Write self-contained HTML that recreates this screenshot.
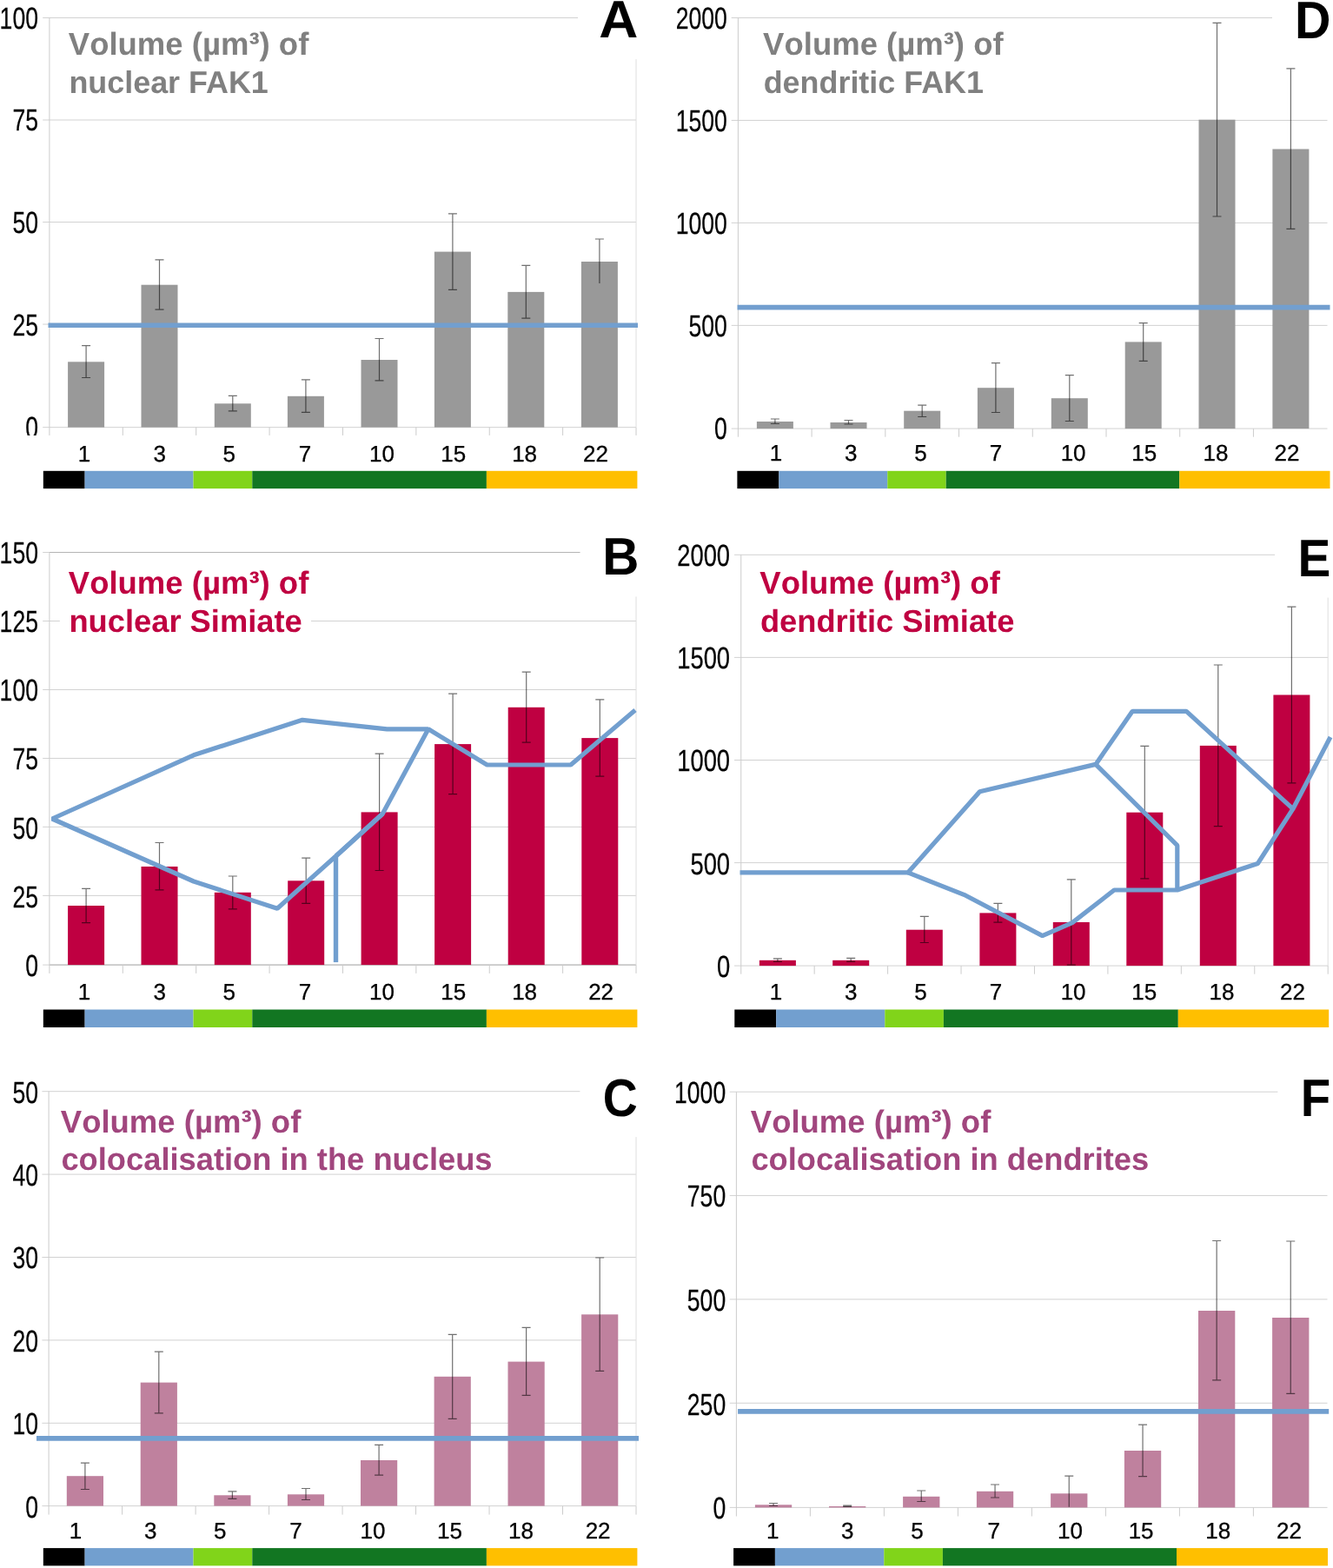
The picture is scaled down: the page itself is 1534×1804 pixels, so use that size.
<!DOCTYPE html>
<html lang="en">
<head>
<meta charset="utf-8">
<title>Volume charts</title>
<style>
html,body{margin:0;padding:0;background:#fff;}
body{width:1534px;height:1804px;overflow:hidden;}
svg{display:block;}
text{font-family:"Liberation Sans",sans-serif;text-rendering:geometricPrecision;}
</style>
</head>
<body>
<svg width="1534" height="1804" viewBox="0 0 1534 1804" font-family="'Liberation Sans', sans-serif">
<defs><clipPath id="clipA"><rect x="0" y="460" width="57" height="40.9"/></clipPath></defs>
<rect width="1534" height="1804" fill="#ffffff"/>
<g>
<line x1="49.2" y1="20.5" x2="665" y2="20.5" stroke="#d2d2d2" stroke-width="1"/>
<line x1="49.2" y1="138.02" x2="732.02" y2="138.02" stroke="#d2d2d2" stroke-width="1"/>
<line x1="49.2" y1="255.54" x2="732.02" y2="255.54" stroke="#d2d2d2" stroke-width="1"/>
<line x1="49.2" y1="373.06" x2="732.02" y2="373.06" stroke="#d2d2d2" stroke-width="1"/>
<line x1="49.2" y1="491.65" x2="732.02" y2="491.65" stroke="#d2d2d2" stroke-width="1"/>
<line x1="56.9" y1="20.5" x2="56.9" y2="500.95" stroke="#cccccc" stroke-width="1"/>
<line x1="141.29" y1="491.65" x2="141.29" y2="500.95" stroke="#cccccc" stroke-width="1"/>
<line x1="225.68" y1="491.65" x2="225.68" y2="500.95" stroke="#cccccc" stroke-width="1"/>
<line x1="310.07" y1="491.65" x2="310.07" y2="500.95" stroke="#cccccc" stroke-width="1"/>
<line x1="394.46" y1="491.65" x2="394.46" y2="500.95" stroke="#cccccc" stroke-width="1"/>
<line x1="478.85" y1="491.65" x2="478.85" y2="500.95" stroke="#cccccc" stroke-width="1"/>
<line x1="563.24" y1="491.65" x2="563.24" y2="500.95" stroke="#cccccc" stroke-width="1"/>
<line x1="647.63" y1="491.65" x2="647.63" y2="500.95" stroke="#cccccc" stroke-width="1"/>
<line x1="732.02" y1="491.65" x2="732.02" y2="500.95" stroke="#cccccc" stroke-width="1"/>
<line x1="732.02" y1="68.2" x2="732.02" y2="491.65" stroke="#dedede" stroke-width="1"/>
<rect x="78.1" y="416.3" width="42" height="75.35" fill="#999999"/>
<rect x="162.5" y="327.7" width="42" height="163.95" fill="#999999"/>
<rect x="246.8" y="464.3" width="42" height="27.35" fill="#999999"/>
<rect x="330.9" y="455.8" width="42" height="35.85" fill="#999999"/>
<rect x="415.5" y="414" width="42" height="77.65" fill="#999999"/>
<rect x="499.9" y="289.6" width="42" height="202.05" fill="#999999"/>
<rect x="584.3" y="335.9" width="42" height="155.75" fill="#999999"/>
<rect x="668.9" y="301" width="42" height="190.65" fill="#999999"/>
<path d="M99.1 397.7V434.5M94.1 397.7H104.1M94.1 434.5H104.1M183.5 298.9V356.2M178.5 298.9H188.5M178.5 356.2H188.5M267.8 455.3V472.8M262.8 455.3H272.8M262.8 472.8H272.8M351.9 436.8V474.3M346.9 436.8H356.9M346.9 474.3H356.9M436.5 389.5V437.8M431.5 389.5H441.5M431.5 437.8H441.5M520.9 245.8V333.4M515.9 245.8H525.9M515.9 333.4H525.9M605.3 305.4V366.2M600.3 305.4H610.3M600.3 366.2H610.3M689.9 275V326M684.9 275H694.9" stroke="#000" stroke-opacity="0.56" stroke-width="1.2" fill="none"/>
<polyline points="55.5,374.2 734,374.2" fill="none" stroke="#729fcf" stroke-width="5.6" stroke-linejoin="bevel" stroke-linecap="butt"/>
<g><text transform="translate(44,32.6) scale(0.76,1)" text-anchor="end" font-size="35" fill="#000" stroke="#000" stroke-width="0.25">100</text></g>
<g><text transform="translate(44,150.42) scale(0.76,1)" text-anchor="end" font-size="35" fill="#000" stroke="#000" stroke-width="0.25">75</text></g>
<g><text transform="translate(44,268.25) scale(0.76,1)" text-anchor="end" font-size="35" fill="#000" stroke="#000" stroke-width="0.25">50</text></g>
<g><text transform="translate(44,386.07) scale(0.76,1)" text-anchor="end" font-size="35" fill="#000" stroke="#000" stroke-width="0.25">25</text></g>
<g clip-path="url(#clipA)"><text transform="translate(44,503.9) scale(0.76,1)" text-anchor="end" font-size="35" fill="#000" stroke="#000" stroke-width="0.25">0</text></g>
<text x="78.8" y="62.6" font-size="36.5" font-weight="bold" fill="#808080" style="font-kerning:none">Volume (µm³) of</text>
<text x="79.4" y="107.1" font-size="35.9" font-weight="bold" fill="#808080">nuclear FAK1</text>
<text transform="translate(689.2,43) scale(1.0397,1.0138)" font-size="60" font-weight="bold" fill="#000">A</text>
<text x="97" y="530.6" font-size="26" text-anchor="middle" fill="#000" stroke="#000" stroke-width="0.3">1</text>
<text x="183.7" y="530.6" font-size="26" text-anchor="middle" fill="#000" stroke="#000" stroke-width="0.3">3</text>
<text x="263.7" y="530.6" font-size="26" text-anchor="middle" fill="#000" stroke="#000" stroke-width="0.3">5</text>
<text x="351" y="530.6" font-size="26" text-anchor="middle" fill="#000" stroke="#000" stroke-width="0.3">7</text>
<text x="439.5" y="530.6" font-size="26" text-anchor="middle" fill="#000" stroke="#000" stroke-width="0.3">10</text>
<text x="521.8" y="530.6" font-size="26" text-anchor="middle" fill="#000" stroke="#000" stroke-width="0.3">15</text>
<text x="603.6" y="530.6" font-size="26" text-anchor="middle" fill="#000" stroke="#000" stroke-width="0.3">18</text>
<text x="685.4" y="530.6" font-size="26" text-anchor="middle" fill="#000" stroke="#000" stroke-width="0.3">22</text>
<rect x="49.8" y="541.8" width="47.8" height="20.3" fill="#000000"/>
<rect x="97.6" y="541.8" width="124.9" height="20.3" fill="#729fcf"/>
<rect x="222.5" y="541.8" width="67.8" height="20.3" fill="#81d41a"/>
<rect x="290.3" y="541.8" width="269.6" height="20.3" fill="#127622"/>
<rect x="559.9" y="541.8" width="173.5" height="20.3" fill="#ffbf00"/>
</g>
<g>
<line x1="841.7" y1="20.5" x2="1464" y2="20.5" stroke="#d2d2d2" stroke-width="1"/>
<line x1="841.7" y1="138.46" x2="1527.5" y2="138.46" stroke="#d2d2d2" stroke-width="1"/>
<line x1="841.7" y1="256.42" x2="1527.5" y2="256.42" stroke="#d2d2d2" stroke-width="1"/>
<line x1="841.7" y1="374.38" x2="1527.5" y2="374.38" stroke="#d2d2d2" stroke-width="1"/>
<line x1="841.7" y1="493.1" x2="1527.5" y2="493.1" stroke="#d2d2d2" stroke-width="1"/>
<line x1="849.4" y1="20.5" x2="849.4" y2="502.7" stroke="#cccccc" stroke-width="1"/>
<line x1="934.12" y1="493.1" x2="934.12" y2="502.7" stroke="#cccccc" stroke-width="1"/>
<line x1="1018.84" y1="493.1" x2="1018.84" y2="502.7" stroke="#cccccc" stroke-width="1"/>
<line x1="1103.56" y1="493.1" x2="1103.56" y2="502.7" stroke="#cccccc" stroke-width="1"/>
<line x1="1188.28" y1="493.1" x2="1188.28" y2="502.7" stroke="#cccccc" stroke-width="1"/>
<line x1="1273" y1="493.1" x2="1273" y2="502.7" stroke="#cccccc" stroke-width="1"/>
<line x1="1357.72" y1="493.1" x2="1357.72" y2="502.7" stroke="#cccccc" stroke-width="1"/>
<line x1="1442.44" y1="493.1" x2="1442.44" y2="502.7" stroke="#cccccc" stroke-width="1"/>
<rect x="870.9" y="485" width="42" height="8.1" fill="#999999"/>
<rect x="955.5" y="486" width="42" height="7.1" fill="#999999"/>
<rect x="1040.2" y="472.7" width="42" height="20.4" fill="#999999"/>
<rect x="1124.9" y="446.2" width="42" height="46.9" fill="#999999"/>
<rect x="1209.8" y="458.2" width="42" height="34.9" fill="#999999"/>
<rect x="1294.7" y="393.4" width="42" height="99.7" fill="#999999"/>
<rect x="1379.5" y="137.7" width="42" height="355.4" fill="#999999"/>
<rect x="1464.4" y="171.5" width="42" height="321.6" fill="#999999"/>
<path d="M891.9 482V487.5M886.9 482H896.9M886.9 487.5H896.9M976.5 483.5V488M971.5 483.5H981.5M971.5 488H981.5M1061.2 466.2V479.5M1056.2 466.2H1066.2M1056.2 479.5H1066.2M1145.9 417.6V474.5M1140.9 417.6H1150.9M1140.9 474.5H1150.9M1230.8 431.7V484.5M1225.8 431.7H1235.8M1225.8 484.5H1235.8M1315.7 371.6V415.4M1310.7 371.6H1320.7M1310.7 415.4H1320.7M1400.5 26.3V249M1395.5 26.3H1405.5M1395.5 249H1405.5M1485.4 78.8V263.3M1480.4 78.8H1490.4M1480.4 263.3H1490.4" stroke="#000" stroke-opacity="0.56" stroke-width="1.2" fill="none"/>
<polyline points="848.5,353.6 1530.5,353.6" fill="none" stroke="#729fcf" stroke-width="5.6" stroke-linejoin="bevel" stroke-linecap="butt"/>
<g><text transform="translate(836.9,32.6) scale(0.76,1)" text-anchor="end" font-size="35" fill="#000" stroke="#000" stroke-width="0.25">2000</text></g>
<g><text transform="translate(836.9,150.75) scale(0.76,1)" text-anchor="end" font-size="35" fill="#000" stroke="#000" stroke-width="0.25">1500</text></g>
<g><text transform="translate(836.9,268.9) scale(0.76,1)" text-anchor="end" font-size="35" fill="#000" stroke="#000" stroke-width="0.25">1000</text></g>
<g><text transform="translate(836.9,387.05) scale(0.76,1)" text-anchor="end" font-size="35" fill="#000" stroke="#000" stroke-width="0.25">500</text></g>
<g><text transform="translate(836.9,505.2) scale(0.76,1)" text-anchor="end" font-size="35" fill="#000" stroke="#000" stroke-width="0.25">0</text></g>
<text x="878.1" y="62.6" font-size="36.5" font-weight="bold" fill="#808080" style="font-kerning:none">Volume (µm³) of</text>
<text x="878.7" y="107.1" font-size="35.9" font-weight="bold" fill="#808080">dendritic FAK1</text>
<text transform="translate(1490.06,43.8) scale(0.9566,1.0138)" font-size="60" font-weight="bold" fill="#000">D</text>
<text x="892.9" y="530.3" font-size="26" text-anchor="middle" fill="#000" stroke="#000" stroke-width="0.3">1</text>
<text x="979.3" y="530.3" font-size="26" text-anchor="middle" fill="#000" stroke="#000" stroke-width="0.3">3</text>
<text x="1059.4" y="530.3" font-size="26" text-anchor="middle" fill="#000" stroke="#000" stroke-width="0.3">5</text>
<text x="1146" y="530.3" font-size="26" text-anchor="middle" fill="#000" stroke="#000" stroke-width="0.3">7</text>
<text x="1235.1" y="530.3" font-size="26" text-anchor="middle" fill="#000" stroke="#000" stroke-width="0.3">10</text>
<text x="1316.8" y="530.3" font-size="26" text-anchor="middle" fill="#000" stroke="#000" stroke-width="0.3">15</text>
<text x="1399" y="530.3" font-size="26" text-anchor="middle" fill="#000" stroke="#000" stroke-width="0.3">18</text>
<text x="1480.9" y="530.3" font-size="26" text-anchor="middle" fill="#000" stroke="#000" stroke-width="0.3">22</text>
<rect x="848.4" y="541.8" width="48" height="20.3" fill="#000000"/>
<rect x="896.4" y="541.8" width="124.9" height="20.3" fill="#729fcf"/>
<rect x="1021.3" y="541.8" width="67.4" height="20.3" fill="#81d41a"/>
<rect x="1088.7" y="541.8" width="268.6" height="20.3" fill="#127622"/>
<rect x="1357.3" y="541.8" width="173.2" height="20.3" fill="#ffbf00"/>
</g>
<g>
<line x1="49.2" y1="635.5" x2="667.4" y2="635.5" stroke="#d2d2d2" stroke-width="1"/>
<line x1="56.9" y1="635.5" x2="667.4" y2="635.5" stroke="#b4b4b4" stroke-width="1"/>
<line x1="49.2" y1="714.48" x2="732.02" y2="714.48" stroke="#d2d2d2" stroke-width="1"/>
<line x1="49.2" y1="793.46" x2="732.02" y2="793.46" stroke="#d2d2d2" stroke-width="1"/>
<line x1="49.2" y1="872.44" x2="732.02" y2="872.44" stroke="#d2d2d2" stroke-width="1"/>
<line x1="49.2" y1="951.42" x2="732.02" y2="951.42" stroke="#d2d2d2" stroke-width="1"/>
<line x1="49.2" y1="1030.4" x2="732.02" y2="1030.4" stroke="#d2d2d2" stroke-width="1"/>
<line x1="49.2" y1="1110.1" x2="732.02" y2="1110.1" stroke="#d2d2d2" stroke-width="1"/>
<line x1="56.9" y1="1110.1" x2="732.02" y2="1110.1" stroke="#b4b4b4" stroke-width="1"/>
<line x1="56.9" y1="635.5" x2="56.9" y2="1119.9" stroke="#cccccc" stroke-width="1"/>
<line x1="141.29" y1="1110.1" x2="141.29" y2="1119.9" stroke="#cccccc" stroke-width="1"/>
<line x1="225.68" y1="1110.1" x2="225.68" y2="1119.9" stroke="#cccccc" stroke-width="1"/>
<line x1="310.07" y1="1110.1" x2="310.07" y2="1119.9" stroke="#cccccc" stroke-width="1"/>
<line x1="394.46" y1="1110.1" x2="394.46" y2="1119.9" stroke="#cccccc" stroke-width="1"/>
<line x1="478.85" y1="1110.1" x2="478.85" y2="1119.9" stroke="#cccccc" stroke-width="1"/>
<line x1="563.24" y1="1110.1" x2="563.24" y2="1119.9" stroke="#cccccc" stroke-width="1"/>
<line x1="647.63" y1="1110.1" x2="647.63" y2="1119.9" stroke="#cccccc" stroke-width="1"/>
<line x1="732.02" y1="1110.1" x2="732.02" y2="1119.9" stroke="#cccccc" stroke-width="1"/>
<line x1="732.02" y1="686.4" x2="732.02" y2="1110.1" stroke="#dedede" stroke-width="1"/>
<rect x="68.8" y="650" width="289.2" height="90" fill="#fff"/>
<rect x="78.1" y="1042" width="42" height="68.1" fill="#bf0041"/>
<rect x="162.5" y="997" width="42" height="113.1" fill="#bf0041"/>
<rect x="246.8" y="1026.8" width="42" height="83.3" fill="#bf0041"/>
<rect x="331.2" y="1013.3" width="42" height="96.8" fill="#bf0041"/>
<rect x="415.6" y="934.4" width="42" height="175.7" fill="#bf0041"/>
<rect x="500.1" y="856.1" width="42" height="254" fill="#bf0041"/>
<rect x="584.7" y="813.8" width="42" height="296.3" fill="#bf0041"/>
<rect x="669.3" y="849.1" width="42" height="261" fill="#bf0041"/>
<path d="M99.1 1022.3V1061.6M94.1 1022.3H104.1M94.1 1061.6H104.1M183.5 969.5V1023.8M178.5 969.5H188.5M178.5 1023.8H188.5M267.8 1008V1045.8M262.8 1008H272.8M262.8 1045.8H272.8M352.2 987.2V1039.3M347.2 987.2H357.2M347.2 1039.3H357.2M436.6 867.1V1001.5M431.6 867.1H441.6M431.6 1001.5H441.6M521.1 798.2V913.6M516.1 798.2H526.1M516.1 913.6H526.1M605.7 773.2V854.1M600.7 773.2H610.7M600.7 854.1H610.7M690.3 804.8V893.1M685.3 804.8H695.3M685.3 893.1H695.3" stroke="#000" stroke-opacity="0.56" stroke-width="1.2" fill="none"/>
<polyline points="440.3,936.3 386.5,985 319.1,1045.3 222.8,1014 60,942 222.8,868.8 348,828.3 445.3,838.8 492.9,838.8" fill="none" stroke="#729fcf" stroke-width="5.2" stroke-linejoin="bevel" stroke-linecap="butt"/>
<polyline points="386.5,985 440.3,936.3 492.9,838.8 560.5,880 656.8,880 731,817" fill="none" stroke="#729fcf" stroke-width="5.2" stroke-linejoin="bevel" stroke-linecap="butt"/>
<polyline points="386.5,984 386.5,1107.1" fill="none" stroke="#729fcf" stroke-width="5.4" stroke-linejoin="bevel" stroke-linecap="butt"/>
<g><text transform="translate(44,647.9) scale(0.76,1)" text-anchor="end" font-size="35" fill="#000" stroke="#000" stroke-width="0.25">150</text></g>
<g><text transform="translate(44,727.05) scale(0.76,1)" text-anchor="end" font-size="35" fill="#000" stroke="#000" stroke-width="0.25">125</text></g>
<g><text transform="translate(44,806.2) scale(0.76,1)" text-anchor="end" font-size="35" fill="#000" stroke="#000" stroke-width="0.25">100</text></g>
<g><text transform="translate(44,885.35) scale(0.76,1)" text-anchor="end" font-size="35" fill="#000" stroke="#000" stroke-width="0.25">75</text></g>
<g><text transform="translate(44,964.5) scale(0.76,1)" text-anchor="end" font-size="35" fill="#000" stroke="#000" stroke-width="0.25">50</text></g>
<g><text transform="translate(44,1043.65) scale(0.76,1)" text-anchor="end" font-size="35" fill="#000" stroke="#000" stroke-width="0.25">25</text></g>
<g><text transform="translate(44,1122.8) scale(0.76,1)" text-anchor="end" font-size="35" fill="#000" stroke="#000" stroke-width="0.25">0</text></g>
<text x="78.8" y="682.6" font-size="36.5" font-weight="bold" fill="#bf0041" style="font-kerning:none">Volume (µm³) of</text>
<text x="79.4" y="726.6" font-size="36.3" font-weight="bold" fill="#bf0041">nuclear Simiate</text>
<text transform="translate(693.3,661) scale(0.9729,1.0138)" font-size="60" font-weight="bold" fill="#000">B</text>
<text x="97" y="1150.2" font-size="26" text-anchor="middle" fill="#000" stroke="#000" stroke-width="0.3">1</text>
<text x="183.7" y="1150.2" font-size="26" text-anchor="middle" fill="#000" stroke="#000" stroke-width="0.3">3</text>
<text x="263.7" y="1150.2" font-size="26" text-anchor="middle" fill="#000" stroke="#000" stroke-width="0.3">5</text>
<text x="351" y="1150.2" font-size="26" text-anchor="middle" fill="#000" stroke="#000" stroke-width="0.3">7</text>
<text x="439.5" y="1150.2" font-size="26" text-anchor="middle" fill="#000" stroke="#000" stroke-width="0.3">10</text>
<text x="521.8" y="1150.2" font-size="26" text-anchor="middle" fill="#000" stroke="#000" stroke-width="0.3">15</text>
<text x="603.6" y="1150.2" font-size="26" text-anchor="middle" fill="#000" stroke="#000" stroke-width="0.3">18</text>
<text x="691.6" y="1150.2" font-size="26" text-anchor="middle" fill="#000" stroke="#000" stroke-width="0.3">22</text>
<rect x="49.8" y="1161.5" width="47.8" height="20.5" fill="#000000"/>
<rect x="97.6" y="1161.5" width="124.9" height="20.5" fill="#729fcf"/>
<rect x="222.5" y="1161.5" width="67.8" height="20.5" fill="#81d41a"/>
<rect x="290.3" y="1161.5" width="269.6" height="20.5" fill="#127622"/>
<rect x="559.9" y="1161.5" width="173.5" height="20.5" fill="#ffbf00"/>
</g>
<g>
<line x1="845.05" y1="638.3" x2="1467.1" y2="638.3" stroke="#d2d2d2" stroke-width="1"/>
<line x1="845.05" y1="756.4" x2="1528.19" y2="756.4" stroke="#d2d2d2" stroke-width="1"/>
<line x1="845.05" y1="874.5" x2="1528.19" y2="874.5" stroke="#d2d2d2" stroke-width="1"/>
<line x1="845.05" y1="992.6" x2="1528.19" y2="992.6" stroke="#d2d2d2" stroke-width="1"/>
<line x1="845.05" y1="1111.1" x2="1528.19" y2="1111.1" stroke="#d2d2d2" stroke-width="1"/>
<line x1="852.75" y1="638.3" x2="852.75" y2="1120.7" stroke="#cccccc" stroke-width="1"/>
<line x1="937.18" y1="1111.1" x2="937.18" y2="1120.7" stroke="#cccccc" stroke-width="1"/>
<line x1="1021.61" y1="1111.1" x2="1021.61" y2="1120.7" stroke="#cccccc" stroke-width="1"/>
<line x1="1106.04" y1="1111.1" x2="1106.04" y2="1120.7" stroke="#cccccc" stroke-width="1"/>
<line x1="1190.47" y1="1111.1" x2="1190.47" y2="1120.7" stroke="#cccccc" stroke-width="1"/>
<line x1="1274.9" y1="1111.1" x2="1274.9" y2="1120.7" stroke="#cccccc" stroke-width="1"/>
<line x1="1359.33" y1="1111.1" x2="1359.33" y2="1120.7" stroke="#cccccc" stroke-width="1"/>
<line x1="1443.76" y1="1111.1" x2="1443.76" y2="1120.7" stroke="#cccccc" stroke-width="1"/>
<line x1="1528.19" y1="1111.1" x2="1528.19" y2="1120.7" stroke="#cccccc" stroke-width="1"/>
<line x1="1528.19" y1="687.6" x2="1528.19" y2="1111.1" stroke="#dedede" stroke-width="1"/>
<rect x="873.9" y="1104.8" width="42" height="6.3" fill="#bf0041"/>
<rect x="958.2" y="1104.8" width="42" height="6.3" fill="#bf0041"/>
<rect x="1042.8" y="1069.7" width="42" height="41.4" fill="#bf0041"/>
<rect x="1127.4" y="1050.4" width="42" height="60.7" fill="#bf0041"/>
<rect x="1211.8" y="1061" width="42" height="50.1" fill="#bf0041"/>
<rect x="1296.3" y="934.7" width="42" height="176.4" fill="#bf0041"/>
<rect x="1380.8" y="857.9" width="42" height="253.2" fill="#bf0041"/>
<rect x="1465.4" y="799.5" width="42" height="311.6" fill="#bf0041"/>
<path d="M894.9 1102.8V1106.3M889.9 1102.8H899.9M889.9 1106.3H899.9M979.2 1102.3V1106.3M974.2 1102.3H984.2M974.2 1106.3H984.2M1063.8 1054.4V1084.5M1058.8 1054.4H1068.8M1058.8 1084.5H1068.8M1148.4 1039.4V1061.2M1143.4 1039.4H1153.4M1143.4 1061.2H1153.4M1232.8 1011.8V1110.2M1227.8 1011.8H1237.8M1227.8 1110.2H1237.8M1317.3 858.3V1010.8M1312.3 858.3H1322.3M1312.3 1010.8H1322.3M1401.8 765V950.7M1396.8 765H1406.8M1396.8 950.7H1406.8M1486.4 698.1V900.9M1481.4 698.1H1491.4M1481.4 900.9H1491.4" stroke="#000" stroke-opacity="0.56" stroke-width="1.2" fill="none"/>
<polyline points="851.5,1003.9 1044.8,1003.9 1127.5,910.8 1260.9,879.4 1303.2,818.3 1365.3,818.3 1487.9,930.7" fill="none" stroke="#729fcf" stroke-width="5.2" stroke-linejoin="bevel" stroke-linecap="butt"/>
<polyline points="1260.9,879.4 1354.8,972.7 1354.8,1024" fill="none" stroke="#729fcf" stroke-width="5.2" stroke-linejoin="bevel" stroke-linecap="butt"/>
<polyline points="1044.8,1003.9 1111.2,1030.2 1199.6,1076.6 1233.9,1061.6 1282.2,1024 1354.8,1024 1447.4,993.5 1487.9,930.7 1531,848" fill="none" stroke="#729fcf" stroke-width="5.2" stroke-linejoin="bevel" stroke-linecap="butt"/>
<g><text transform="translate(840.1,650.7) scale(0.782,1)" text-anchor="end" font-size="35" fill="#000" stroke="#000" stroke-width="0.25">2000</text></g>
<g><text transform="translate(840.1,768.98) scale(0.782,1)" text-anchor="end" font-size="35" fill="#000" stroke="#000" stroke-width="0.25">1500</text></g>
<g><text transform="translate(840.1,887.25) scale(0.782,1)" text-anchor="end" font-size="35" fill="#000" stroke="#000" stroke-width="0.25">1000</text></g>
<g><text transform="translate(840.1,1005.52) scale(0.782,1)" text-anchor="end" font-size="35" fill="#000" stroke="#000" stroke-width="0.25">500</text></g>
<g><text transform="translate(840.1,1123.8) scale(0.782,1)" text-anchor="end" font-size="35" fill="#000" stroke="#000" stroke-width="0.25">0</text></g>
<text x="874.3" y="682.6" font-size="36.5" font-weight="bold" fill="#bf0041" style="font-kerning:none">Volume (µm³) of</text>
<text x="874.9" y="726.6" font-size="36.3" font-weight="bold" fill="#bf0041">dendritic Simiate</text>
<text transform="translate(1493.51,662.6) scale(0.9447,1.0138)" font-size="60" font-weight="bold" fill="#000">E</text>
<text x="892.9" y="1150.2" font-size="26" text-anchor="middle" fill="#000" stroke="#000" stroke-width="0.3">1</text>
<text x="979.3" y="1150.2" font-size="26" text-anchor="middle" fill="#000" stroke="#000" stroke-width="0.3">3</text>
<text x="1059.4" y="1150.2" font-size="26" text-anchor="middle" fill="#000" stroke="#000" stroke-width="0.3">5</text>
<text x="1146" y="1150.2" font-size="26" text-anchor="middle" fill="#000" stroke="#000" stroke-width="0.3">7</text>
<text x="1235.1" y="1150.2" font-size="26" text-anchor="middle" fill="#000" stroke="#000" stroke-width="0.3">10</text>
<text x="1316.8" y="1150.2" font-size="26" text-anchor="middle" fill="#000" stroke="#000" stroke-width="0.3">15</text>
<text x="1406" y="1150.2" font-size="26" text-anchor="middle" fill="#000" stroke="#000" stroke-width="0.3">18</text>
<text x="1487.4" y="1150.2" font-size="26" text-anchor="middle" fill="#000" stroke="#000" stroke-width="0.3">22</text>
<rect x="845.3" y="1161.5" width="47.9" height="20.5" fill="#000000"/>
<rect x="893.2" y="1161.5" width="125.1" height="20.5" fill="#729fcf"/>
<rect x="1018.3" y="1161.5" width="67.6" height="20.5" fill="#81d41a"/>
<rect x="1085.9" y="1161.5" width="269.9" height="20.5" fill="#127622"/>
<rect x="1355.8" y="1161.5" width="173.4" height="20.5" fill="#ffbf00"/>
</g>
<g>
<line x1="48.4" y1="1255.7" x2="667.4" y2="1255.7" stroke="#d2d2d2" stroke-width="1"/>
<line x1="48.4" y1="1351.1" x2="732.02" y2="1351.1" stroke="#d2d2d2" stroke-width="1"/>
<line x1="48.4" y1="1446.5" x2="732.02" y2="1446.5" stroke="#d2d2d2" stroke-width="1"/>
<line x1="48.4" y1="1541.9" x2="732.02" y2="1541.9" stroke="#d2d2d2" stroke-width="1"/>
<line x1="48.4" y1="1637.3" x2="732.02" y2="1637.3" stroke="#d2d2d2" stroke-width="1"/>
<line x1="48.4" y1="1732.6" x2="732.02" y2="1732.6" stroke="#d2d2d2" stroke-width="1"/>
<line x1="56.1" y1="1255.7" x2="56.1" y2="1742.6" stroke="#cccccc" stroke-width="1"/>
<line x1="140.59" y1="1732.6" x2="140.59" y2="1742.6" stroke="#cccccc" stroke-width="1"/>
<line x1="225.08" y1="1732.6" x2="225.08" y2="1742.6" stroke="#cccccc" stroke-width="1"/>
<line x1="309.57" y1="1732.6" x2="309.57" y2="1742.6" stroke="#cccccc" stroke-width="1"/>
<line x1="394.06" y1="1732.6" x2="394.06" y2="1742.6" stroke="#cccccc" stroke-width="1"/>
<line x1="478.55" y1="1732.6" x2="478.55" y2="1742.6" stroke="#cccccc" stroke-width="1"/>
<line x1="563.04" y1="1732.6" x2="563.04" y2="1742.6" stroke="#cccccc" stroke-width="1"/>
<line x1="647.53" y1="1732.6" x2="647.53" y2="1742.6" stroke="#cccccc" stroke-width="1"/>
<line x1="732.02" y1="1732.6" x2="732.02" y2="1742.6" stroke="#cccccc" stroke-width="1"/>
<line x1="732.02" y1="1308.1" x2="732.02" y2="1732.6" stroke="#dedede" stroke-width="1"/>
<rect x="76.8" y="1698.2" width="42.2" height="34.4" fill="#bf819e"/>
<rect x="161.7" y="1590.6" width="42.2" height="142" fill="#bf819e"/>
<rect x="246.3" y="1720.3" width="42.2" height="12.3" fill="#bf819e"/>
<rect x="330.9" y="1719.3" width="42.2" height="13.3" fill="#bf819e"/>
<rect x="415" y="1680" width="42.2" height="52.6" fill="#bf819e"/>
<rect x="499.6" y="1583.8" width="42.2" height="148.8" fill="#bf819e"/>
<rect x="584.5" y="1566.6" width="42.2" height="166" fill="#bf819e"/>
<rect x="669.1" y="1512.3" width="42.2" height="220.3" fill="#bf819e"/>
<path d="M97.9 1683.2V1713.5M92.9 1683.2H102.9M92.9 1713.5H102.9M182.8 1555.1V1625.9M177.8 1555.1H187.8M177.8 1625.9H187.8M267.4 1715.8V1724.3M262.4 1715.8H272.4M262.4 1724.3H272.4M352 1712.5V1725.5M347 1712.5H357M347 1725.5H357M436.1 1662.4V1697.2M431.1 1662.4H441.1M431.1 1697.2H441.1M520.7 1535.3V1632.4M515.7 1535.3H525.7M515.7 1632.4H525.7M605.6 1527.3V1605.4M600.6 1527.3H610.6M600.6 1605.4H610.6M690.2 1447V1577.3M685.2 1447H695.2M685.2 1577.3H695.2" stroke="#000" stroke-opacity="0.56" stroke-width="1.2" fill="none"/>
<polyline points="42,1654.9 735,1654.9" fill="none" stroke="#729fcf" stroke-width="5.6" stroke-linejoin="bevel" stroke-linecap="butt"/>
<g><text transform="translate(44,1268.6) scale(0.76,1)" text-anchor="end" font-size="35" fill="#000" stroke="#000" stroke-width="0.25">50</text></g>
<g><text transform="translate(44,1363.98) scale(0.76,1)" text-anchor="end" font-size="35" fill="#000" stroke="#000" stroke-width="0.25">40</text></g>
<g><text transform="translate(44,1459.36) scale(0.76,1)" text-anchor="end" font-size="35" fill="#000" stroke="#000" stroke-width="0.25">30</text></g>
<g><text transform="translate(44,1554.74) scale(0.76,1)" text-anchor="end" font-size="35" fill="#000" stroke="#000" stroke-width="0.25">20</text></g>
<g><text transform="translate(44,1650.12) scale(0.76,1)" text-anchor="end" font-size="35" fill="#000" stroke="#000" stroke-width="0.25">10</text></g>
<g><text transform="translate(44,1745.5) scale(0.76,1)" text-anchor="end" font-size="35" fill="#000" stroke="#000" stroke-width="0.25">0</text></g>
<text x="69.8" y="1302.6" font-size="36.5" font-weight="bold" fill="#a1467e" style="font-kerning:none">Volume (µm³) of</text>
<text x="70.4" y="1346.4" font-size="36.3" font-weight="bold" fill="#a1467e">colocalisation in the nucleus</text>
<text transform="translate(693.73,1284.3) scale(0.9228,1.0138)" font-size="60" font-weight="bold" fill="#000">C</text>
<text x="86.9" y="1770.4" font-size="26" text-anchor="middle" fill="#000" stroke="#000" stroke-width="0.3">1</text>
<text x="173.2" y="1770.4" font-size="26" text-anchor="middle" fill="#000" stroke="#000" stroke-width="0.3">3</text>
<text x="253.3" y="1770.4" font-size="26" text-anchor="middle" fill="#000" stroke="#000" stroke-width="0.3">5</text>
<text x="340.4" y="1770.4" font-size="26" text-anchor="middle" fill="#000" stroke="#000" stroke-width="0.3">7</text>
<text x="429" y="1770.4" font-size="26" text-anchor="middle" fill="#000" stroke="#000" stroke-width="0.3">10</text>
<text x="517.5" y="1770.4" font-size="26" text-anchor="middle" fill="#000" stroke="#000" stroke-width="0.3">15</text>
<text x="599.4" y="1770.4" font-size="26" text-anchor="middle" fill="#000" stroke="#000" stroke-width="0.3">18</text>
<text x="688.1" y="1770.4" font-size="26" text-anchor="middle" fill="#000" stroke="#000" stroke-width="0.3">22</text>
<rect x="49.8" y="1781.1" width="47.8" height="20.3" fill="#000000"/>
<rect x="97.6" y="1781.1" width="124.9" height="20.3" fill="#729fcf"/>
<rect x="222.5" y="1781.1" width="67.8" height="20.3" fill="#81d41a"/>
<rect x="290.3" y="1781.1" width="269.6" height="20.3" fill="#127622"/>
<rect x="559.9" y="1781.1" width="173.5" height="20.3" fill="#ffbf00"/>
</g>
<g>
<line x1="839.7" y1="1256.2" x2="1470.4" y2="1256.2" stroke="#d2d2d2" stroke-width="1"/>
<line x1="839.7" y1="1375.55" x2="1527.5" y2="1375.55" stroke="#d2d2d2" stroke-width="1"/>
<line x1="839.7" y1="1494.9" x2="1527.5" y2="1494.9" stroke="#d2d2d2" stroke-width="1"/>
<line x1="839.7" y1="1614.25" x2="1527.5" y2="1614.25" stroke="#d2d2d2" stroke-width="1"/>
<line x1="839.7" y1="1734.4" x2="1527.5" y2="1734.4" stroke="#d2d2d2" stroke-width="1"/>
<line x1="847.4" y1="1256.2" x2="847.4" y2="1744.5" stroke="#cccccc" stroke-width="1"/>
<line x1="932.4" y1="1734.4" x2="932.4" y2="1744.5" stroke="#cccccc" stroke-width="1"/>
<line x1="1017.4" y1="1734.4" x2="1017.4" y2="1744.5" stroke="#cccccc" stroke-width="1"/>
<line x1="1102.4" y1="1734.4" x2="1102.4" y2="1744.5" stroke="#cccccc" stroke-width="1"/>
<line x1="1187.4" y1="1734.4" x2="1187.4" y2="1744.5" stroke="#cccccc" stroke-width="1"/>
<line x1="1272.4" y1="1734.4" x2="1272.4" y2="1744.5" stroke="#cccccc" stroke-width="1"/>
<line x1="1357.4" y1="1734.4" x2="1357.4" y2="1744.5" stroke="#cccccc" stroke-width="1"/>
<line x1="1442.4" y1="1734.4" x2="1442.4" y2="1744.5" stroke="#cccccc" stroke-width="1"/>
<rect x="868.9" y="1731.3" width="42.3" height="3.1" fill="#bf819e"/>
<rect x="954" y="1733" width="42.3" height="1.4" fill="#bf819e"/>
<rect x="1039.1" y="1721.8" width="42.3" height="12.6" fill="#bf819e"/>
<rect x="1123.9" y="1715.8" width="42.3" height="18.6" fill="#bf819e"/>
<rect x="1209.1" y="1718.3" width="42.3" height="16.1" fill="#bf819e"/>
<rect x="1293.9" y="1669" width="42.3" height="65.4" fill="#bf819e"/>
<rect x="1379" y="1508" width="42.3" height="226.4" fill="#bf819e"/>
<rect x="1464.1" y="1516" width="42.3" height="218.4" fill="#bf819e"/>
<path d="M890.05 1729.5V1732.5M885.05 1729.5H895.05M885.05 1732.5H895.05M975.15 1732.2V1733.4M970.15 1732.2H980.15M970.15 1733.4H980.15M1060.25 1715V1727.5M1055.25 1715H1065.25M1055.25 1727.5H1065.25M1145.05 1708V1723M1140.05 1708H1150.05M1140.05 1723H1150.05M1230.25 1698.2V1733.8M1225.25 1698.2H1235.25M1315.05 1639.2V1698.7M1310.05 1639.2H1320.05M1310.05 1698.7H1320.05M1400.15 1427.5V1587.9M1395.15 1427.5H1405.15M1395.15 1587.9H1405.15M1485.25 1428V1603.4M1480.25 1428H1490.25M1480.25 1603.4H1490.25" stroke="#000" stroke-opacity="0.56" stroke-width="1.2" fill="none"/>
<polyline points="849.1,1623.9 1529.2,1623.9" fill="none" stroke="#729fcf" stroke-width="5.6" stroke-linejoin="bevel" stroke-linecap="butt"/>
<g><text transform="translate(835.2,1268.9) scale(0.76,1)" text-anchor="end" font-size="35" fill="#000" stroke="#000" stroke-width="0.25">1000</text></g>
<g><text transform="translate(835.2,1388.48) scale(0.76,1)" text-anchor="end" font-size="35" fill="#000" stroke="#000" stroke-width="0.25">750</text></g>
<g><text transform="translate(835.2,1508.05) scale(0.76,1)" text-anchor="end" font-size="35" fill="#000" stroke="#000" stroke-width="0.25">500</text></g>
<g><text transform="translate(835.2,1627.62) scale(0.76,1)" text-anchor="end" font-size="35" fill="#000" stroke="#000" stroke-width="0.25">250</text></g>
<g><text transform="translate(835.2,1747.2) scale(0.76,1)" text-anchor="end" font-size="35" fill="#000" stroke="#000" stroke-width="0.25">0</text></g>
<text x="863.8" y="1302.6" font-size="36.5" font-weight="bold" fill="#a1467e" style="font-kerning:none">Volume (µm³) of</text>
<text x="864.4" y="1346.4" font-size="36.3" font-weight="bold" fill="#a1467e">colocalisation in dendrites</text>
<text transform="translate(1496.73,1283.8) scale(0.9396,1.0138)" font-size="60" font-weight="bold" fill="#000">F</text>
<text x="889.2" y="1770.4" font-size="26" text-anchor="middle" fill="#000" stroke="#000" stroke-width="0.3">1</text>
<text x="975.3" y="1770.4" font-size="26" text-anchor="middle" fill="#000" stroke="#000" stroke-width="0.3">3</text>
<text x="1055.6" y="1770.4" font-size="26" text-anchor="middle" fill="#000" stroke="#000" stroke-width="0.3">5</text>
<text x="1143.7" y="1770.4" font-size="26" text-anchor="middle" fill="#000" stroke="#000" stroke-width="0.3">7</text>
<text x="1231.4" y="1770.4" font-size="26" text-anchor="middle" fill="#000" stroke="#000" stroke-width="0.3">10</text>
<text x="1313.1" y="1770.4" font-size="26" text-anchor="middle" fill="#000" stroke="#000" stroke-width="0.3">15</text>
<text x="1401.8" y="1770.4" font-size="26" text-anchor="middle" fill="#000" stroke="#000" stroke-width="0.3">18</text>
<text x="1483.5" y="1770.4" font-size="26" text-anchor="middle" fill="#000" stroke="#000" stroke-width="0.3">22</text>
<rect x="844.1" y="1781.1" width="47.8" height="20.3" fill="#000000"/>
<rect x="891.9" y="1781.1" width="125.4" height="20.3" fill="#729fcf"/>
<rect x="1017.3" y="1781.1" width="67.6" height="20.3" fill="#81d41a"/>
<rect x="1084.9" y="1781.1" width="269.1" height="20.3" fill="#127622"/>
<rect x="1354" y="1781.1" width="174" height="20.3" fill="#ffbf00"/>
</g>
</svg>
</body>
</html>
